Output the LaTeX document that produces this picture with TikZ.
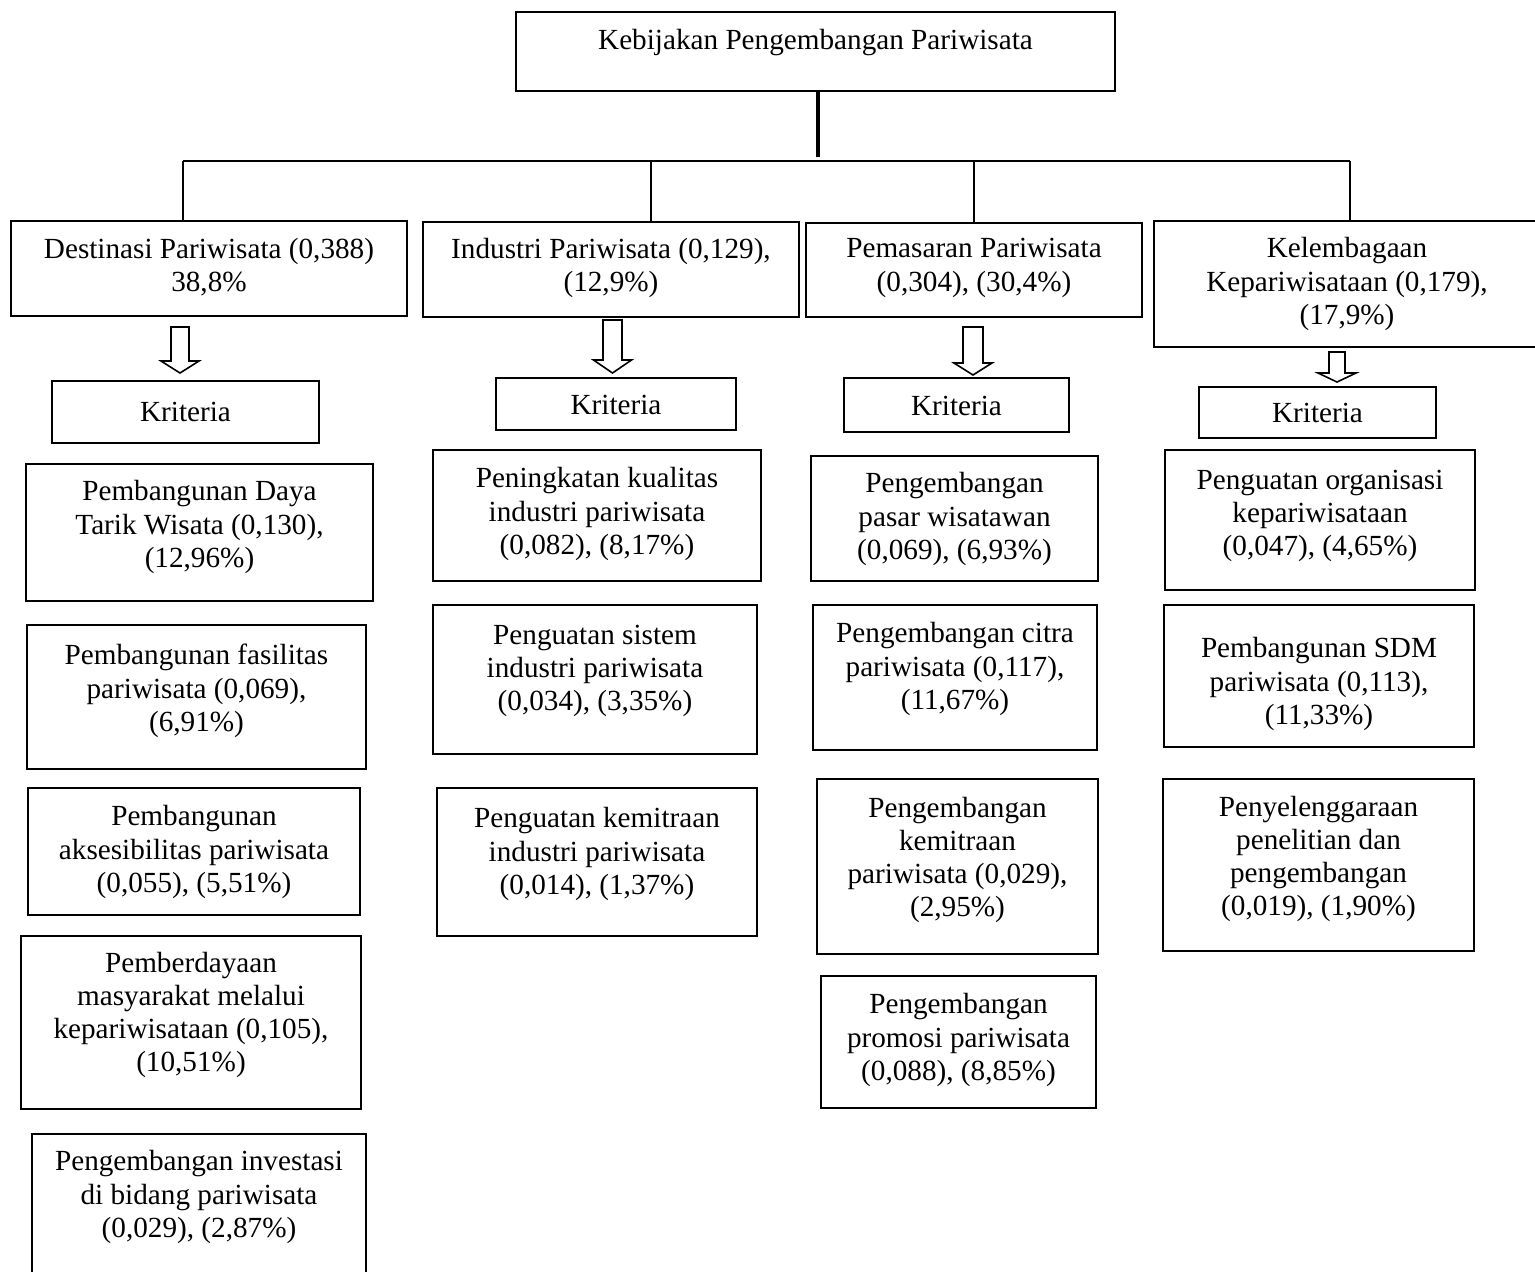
\documentclass[tikz,border=0pt]{standalone}
\usepackage{fontspec}
\setmainfont{Liberation Serif}
\usetikzlibrary{fit}
\tikzset{
  boxst/.style={draw=black, line width=1pt, inner sep=0pt, rectangle},
  txt/.style={align=center, inner sep=0pt, font=\fontsize{14.6pt}{16.6pt}\selectfont},
  link/.style={draw=black, line width=0.9pt},
  trunk/.style={draw=black, line width=1.6pt},
  harrowst/.style={draw=black, line width=0.8pt, fill=white, line join=miter},
}
% name, x1, y1, x2, y2, text-centre y, text
\newcommand\bx[7]{%
  \node[boxst, fit={(#2,#3)(#4,#5)}] (#1) {};
  \node[txt] (#1t) at ({(#2+#4)/2},#6) {#7};}
% centre x, top, head base, tip, shaft half width, head half width
\newcommand\harr[6]{%
  \draw[harrowst] ({#1-#5},#2) -- ({#1+#5},#2) -- ({#1+#5},#3) -- ({#1+#6},#3)
    -- (#1,#4) -- ({#1-#6},#3) -- ({#1-#5},#3) -- cycle;}
\begin{document}
\begin{tikzpicture}[x=0.5pt, y=-0.5pt]
\useasboundingbox (0,0) rectangle (1535,1271);
\clip (0,0) rectangle (1535,1271);
\fill[white] (0,0) rectangle (1535,1271);

% top
\bx{top}{516}{12}{1115}{91}{43}{Kebijakan Pengembangan Pariwisata}

% level 1
\bx{B1}{11}{221}{407}{316}{267}{Destinasi Pariwisata (0,388)\\38,8\%}
\bx{B2}{423}{222}{799}{317}{268}{Industri Pariwisata (0,129),\\(12,9\%)}
\bx{B3}{806}{223}{1142}{317}{268}{Pemasaran Pariwisata\\(0,304), (30,4\%)}
\bx{B4}{1154}{221}{1540}{347}{284}{Kelembagaan\\Kepariwisataan (0,179),\\(17,9\%)}

% connectors
\coordinate (j) at (818,157);
\coordinate (h1) at (183,161);
\coordinate (h2) at (651,161);
\coordinate (h3) at (974,161);
\coordinate (h4) at (1350,161);
\draw[trunk] (j |- top.south) -- (j);
\draw[link] (h1) -- (h4);
\draw[link] (h1) -- (h1 |- B1.north);
\draw[link] (h2) -- (h2 |- B2.north);
\draw[link] (h3) -- (h3 |- B3.north);
\draw[link] (h4) -- (h4 |- B4.north);

% hollow arrows
\harr{180}{327}{361}{373}{9}{19}
\harr{612.5}{320}{360}{373}{9.5}{19}
\harr{973}{327}{363}{375}{10}{19}
\harr{1337}{352}{373}{382}{8}{19}

% Kriteria
\bx{K1}{52}{381}{319}{443}{412}{Kriteria}
\bx{K2}{496}{378}{736}{430}{405}{Kriteria}
\bx{K3}{844}{378}{1069}{432}{406}{Kriteria}
\bx{K4}{1199}{387}{1436}{438}{413}{Kriteria}

% column 1
\bx{C1a}{26}{464}{373}{601}{527}{Pembangunan Daya\\Tarik Wisata (0,130),\\(12,96\%)}
\bx{C1b}{27}{625}{366}{769}{691}{Pembangunan fasilitas\\pariwisata (0,069),\\(6,91\%)}
\bx{C1c}{28}{788}{360}{915}{852}{Pembangunan\\aksesibilitas pariwisata\\(0,055), (5,51\%)}
\bx{C1d}{21}{936}{361}{1109}{1015}{Pemberdayaan\\masyarakat melalui\\kepariwisataan (0,105),\\(10,51\%)}
\bx{C1e}{32}{1134}{366}{1290}{1197}{Pengembangan investasi\\di bidang pariwisata\\(0,029), (2,87\%)}

% column 2
\bx{C2a}{433}{450}{761}{581}{514}{Peningkatan kualitas\\industri pariwisata\\(0,082), (8,17\%)}
\bx{C2b}{433}{605}{757}{754}{671}{Penguatan sistem\\industri pariwisata\\(0,034), (3,35\%)}
\bx{C2c}{437}{788}{757}{936}{854}{Penguatan kemitraan\\industri pariwisata\\(0,014), (1,37\%)}

% column 3
\bx{C3a}{811}{456}{1098}{581}{519}{Pengembangan\\pasar wisatawan\\(0,069), (6,93\%)}
\bx{C3b}{813}{605}{1097}{750}{669}{Pengembangan citra\\pariwisata (0,117),\\(11,67\%)}
\bx{C3c}{817}{779}{1098}{954}{860}{Pengembangan\\kemitraan\\pariwisata (0,029),\\(2,95\%)}
\bx{C3d}{821}{976}{1096}{1108}{1040}{Pengembangan\\promosi pariwisata\\(0,088), (8,85\%)}

% column 4
\bx{C4a}{1165}{450}{1475}{590}{516}{Penguatan organisasi\\kepariwisataan\\(0,047), (4,65\%)}
\bx{C4b}{1164}{605}{1474}{747}{684}{Pembangunan SDM\\pariwisata (0,113),\\(11,33\%)}
\bx{C4c}{1163}{779}{1474}{951}{859}{Penyelenggaraan\\penelitian dan\\pengembangan\\(0,019), (1,90\%)}
\end{tikzpicture}
\end{document}
